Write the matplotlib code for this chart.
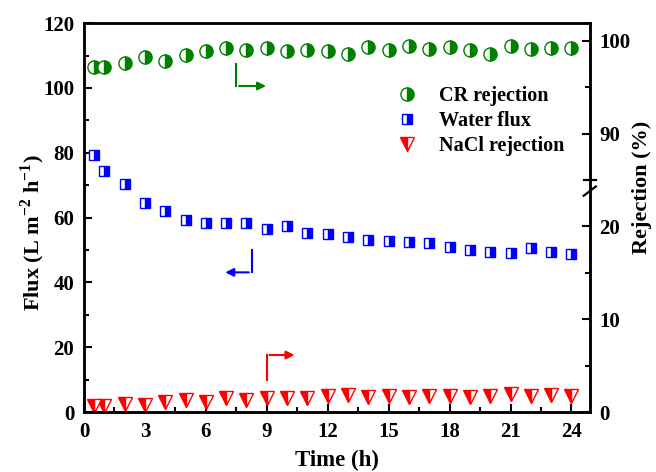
import numpy as np
import matplotlib
matplotlib.use("Agg")
import matplotlib.pyplot as plt
from matplotlib.ticker import MultipleLocator, FixedLocator, NullFormatter

plt.rcParams['font.family'] = ['Liberation Serif', 'DejaVu Serif']
plt.rcParams['font.weight'] = 'bold'
plt.rcParams['mathtext.fontset'] = 'custom'
plt.rcParams['mathtext.rm'] = 'Liberation Serif:bold'
plt.rcParams['mathtext.bf'] = 'Liberation Serif:bold'

# data
time_h = [0.5, 1, 2, 3, 4, 5, 6, 7, 8, 9, 10, 11, 12, 13, 14, 15, 16, 17, 18, 19, 20, 21, 22, 23, 24]
cr_rej = [97.2, 97.2, 97.6, 98.3, 97.8, 98.5, 98.9, 99.2, 99.05, 99.2, 98.9, 99.05, 98.9,
          98.6, 99.3, 99.0, 99.4, 99.1, 99.35, 99.0, 98.6, 99.4, 99.1, 99.2, 99.2]
flux = [79.3, 74.5, 70.3, 64.6, 62.1, 59.3, 58.4, 58.4, 58.2, 56.4, 57.4, 55.3, 54.9,
        54.1, 53.1, 52.8, 52.6, 52.3, 51.0, 50.0, 49.5, 49.2, 50.5, 49.5, 48.9]
nacl_rej = [0.69, 0.69, 0.87, 0.76, 1.06, 1.28, 1.13, 1.49, 1.34, 1.56, 1.49, 1.56, 1.74,
            1.85, 1.67, 1.78, 1.67, 1.78, 1.78, 1.67, 1.78, 1.93, 1.74, 1.85, 1.78]

# broken right axis: 25..85 is cut out
lo, hi = 25.0, 85.0

def fwd(v):
    v = np.asarray(v, dtype=float)
    return np.where(v < lo, v, np.where(v > hi, v - (hi - lo), lo))

def inv(y):
    y = np.asarray(y, dtype=float)
    return np.where(y <= lo, y, y + (hi - lo))

fig = plt.figure(figsize=(6.56, 4.72), dpi=100)
ax = fig.add_axes([0.128, 0.127, 0.771, 0.824])
ax2 = ax.twinx()
ax2.set_yscale('function', functions=(fwd, inv))

l_cr, = ax2.plot(time_h, cr_rej, 'o', ls='none', ms=9.5, color='#008000', mec='#008000',
                 mfc='#008000', mfcalt='white', fillstyle='right', mew=1.0, label='CR rejection')
l_fl, = ax.plot(time_h, flux, 's', ls='none', ms=7.5, color='#0000ff', mec='#0000ff',
                mfc='#0000ff', mfcalt='white', fillstyle='right', mew=1.0, label='Water flux')
l_na, = ax2.plot(time_h, nacl_rej, 'v', ls='none', ms=10.5, color='#ff0000', mec='#ff0000',
                 mfc='#ff0000', mfcalt='white', fillstyle='left', mew=1.0, label='NaCl rejection')

ax.set_xlim(0, 24.9)
ax.set_ylim(0, 120)
ax2.set_ylim(0, 101.9)

ax.xaxis.set_major_locator(MultipleLocator(3))
ax.xaxis.set_minor_locator(MultipleLocator(1.5))
ax.yaxis.set_major_locator(MultipleLocator(20))
ax.yaxis.set_minor_locator(MultipleLocator(10))
ax2.yaxis.set_major_locator(FixedLocator([0, 10, 20, 90, 100]))
ax2.yaxis.set_minor_locator(FixedLocator([5, 15, 95]))
ax2.yaxis.set_minor_formatter(NullFormatter())
ax2.set_yticklabels(['0', '10', '20', '90', '100'])

for a in (ax, ax2):
    a.tick_params(which='major', direction='in', length=6, width=1.5, labelsize=15, pad=7)
    a.tick_params(which='minor', direction='in', length=3.5, width=1.5)
    for s in a.spines.values():
        s.set_linewidth(1.8)
ax.tick_params(top=False, which='both')

ax.set_xlabel('Time (h)', fontsize=16.5, fontweight='bold', labelpad=6)
ax.set_ylabel(r'Flux (L m$^{\mathregular{-2}}$ h$^{\mathregular{-1}}$)', fontsize=16,
              fontweight='bold')
ax.yaxis.set_label_coords(-0.073, 0.46)
ax2.set_ylabel('Rejection (%)', fontsize=16, fontweight='bold')
ax2.yaxis.set_label_coords(1.083, 0.578)

# break marks on the right spine
yb = 25.0
tr = ax2.get_yaxis_transform()
for dy in (-1.2, 0.6):
    ax2.plot([0.988, 1.012], [yb + dy - 0.5, yb + dy + 0.5], transform=tr, color='black',
             lw=1.6, clip_on=False)

# arrows pointing to the axes
arr = dict(arrowstyle='-|>', lw=1.5, mutation_scale=12)
ax.plot([7.5, 7.5], [107.4, 100.6], color='#008000', lw=1.5)
ax.annotate('', xy=(9.1, 100.6), xytext=(7.5, 100.6), arrowprops=dict(color='#008000', **arr))
ax.plot([8.25, 8.25], [50.0, 43.1], color='#0000ff', lw=1.5)
ax.annotate('', xy=(6.82, 43.1), xytext=(8.25, 43.1), arrowprops=dict(color='#0000ff', **arr))
ax.plot([9.0, 9.0], [9.9, 17.6], color='#ff0000', lw=1.5)
ax.annotate('', xy=(10.5, 17.6), xytext=(9.0, 17.6), arrowprops=dict(color='#ff0000', **arr))

leg = ax2.legend(handles=[l_cr, l_fl, l_na], loc='upper left', bbox_to_anchor=(0.598, 0.86),
                 frameon=False, fontsize=14.5, handletextpad=1.0, labelspacing=0.25,
                 handlelength=1.2, borderaxespad=0)

fig.savefig('out.png', dpi=100)
